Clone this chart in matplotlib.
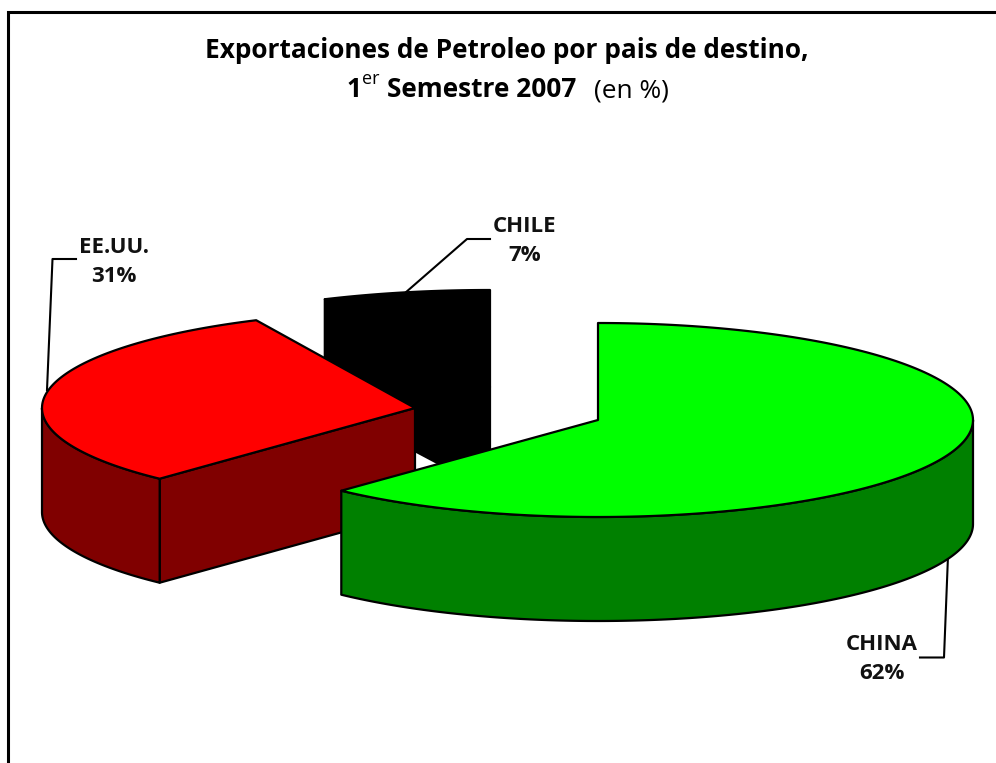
import matplotlib
matplotlib.use("Agg")
import matplotlib.pyplot as plt
from matplotlib.patches import Polygon
import numpy as np

labels = ["CHINA", "EE.UU.", "CHILE"]
values = [62, 31, 7]
top_colors = ["#00FF00", "#FF0000", "#000000"]
side_colors = ["#008000", "#800000", "#000000"]

plt.rcParams['font.family'] = ['Open Sans', 'DejaVu Sans']

# exploded centres of the slices and their radii, in pixels
centers = [(598, 420), (415, 408), (490, 387)]
radii = [375, 373, 388]
ry = 97
depth = 104

def rim(cx, cy, rx, a0, a1, drop=0):
    # angles clockwise from 12 o'clock, degrees
    t = np.radians(np.linspace(a0, a1, 200))
    return np.column_stack([cx + rx*np.sin(t), cy - ry*np.cos(t) + drop])

def face(ax, pts, col, z):
    ax.add_patch(Polygon(pts, closed=True, fc=col, ec='black', lw=1.6, joinstyle='round', zorder=z))

fig = plt.figure(figsize=(9.96, 7.63), dpi=100)
ax = fig.add_axes([0, 0, 1, 1])
ax.set_xlim(0, 996)
ax.set_ylim(763, 0)
ax.axis('off')

# the frame runs off the picture on the right and at the bottom
ax.plot([7.5, 7.5, 996], [763, 12, 12], color='black', lw=2.2, solid_joinstyle='miter', zorder=0)

ends = np.cumsum(values) * 3.6
starts = ends - np.array(values) * 3.6

# back to front: chile, ee.uu., china
for i, z in ((2, 2), (1, 4), (0, 6)):
    cx, cy = centers[i]
    rx = radii[i]
    a0, a1 = starts[i], ends[i]
    c = np.array([cx, cy])
    # only the starting cut looks to the viewer, when the slice starts on the left half
    if np.sin(np.radians(a0)) < 0:
        p = rim(cx, cy, rx, a0, a0)[0]
        face(ax, [c, p, p + [0, depth], c + [0, depth]], side_colors[i], z)
    # outer wall, only the part that looks to the front (90..270)
    w0, w1 = max(a0, 90), min(a1, 270)
    if w1 > w0:
        wall = np.vstack([rim(cx, cy, rx, w0, w1), rim(cx, cy, rx, w1, w0, depth)])
        face(ax, wall, side_colors[i], z + 0.5)
    top = np.vstack([c, rim(cx, cy, rx, a0, a1)])
    face(ax, top, top_colors[i], z + 0.7)

# leader lines
ax.plot([47, 52.5, 76], [390, 259, 259], color='black', lw=1.5, zorder=1)
ax.plot([405, 467, 490], [293, 239, 239], color='black', lw=1.5, zorder=1)
ax.plot([948, 944, 920], [556, 657.5, 657.5], color='black', lw=1.5, zorder=1)

# slice labels
lab_pos = [(882, 650, 679), (114, 253, 282), (525, 232.5, 261)]
for name, val, (x, y0, y1) in zip(labels, values, lab_pos):
    ax.text(x, y0, name, ha='center', va='baseline', fontsize=16, fontweight='bold', color='#111111', zorder=9)
    ax.text(x, y1, "%d%%" % val, ha='center', va='baseline', fontsize=16, fontweight='bold', color='#111111', zorder=9)

ax.text(506.5, 58, "Exportaciones de Petroleo por pais de destino,", ha='center', va='baseline',
        fontsize=18.9, fontweight='bold')
ax.text(347, 97, "1", ha='left', va='baseline', fontsize=18.9, fontweight='bold')
ax.text(362, 84, "er", ha='left', va='baseline', fontsize=13)
ax.text(387, 97, "Semestre 2007", ha='left', va='baseline', fontsize=18.9, fontweight='bold')
ax.text(594, 97, "(en %)", ha='left', va='baseline', fontsize=18.9)

fig.savefig("out.png", dpi=100)
